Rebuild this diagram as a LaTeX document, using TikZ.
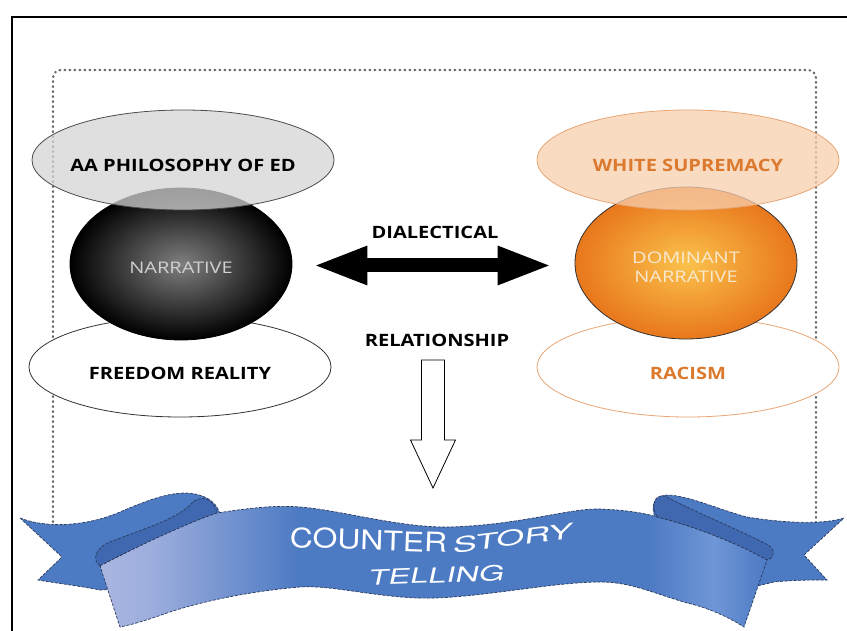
\documentclass[tikz,border=0pt]{standalone}
\usepackage{fontspec}
\setmainfont{Open Sans}
\newfontfamily\ribbonfont{TeX Gyre Heros}
\usetikzlibrary{shapes.geometric,arrows.meta}

\definecolor{peach}{HTML}{F7CFAE}
\definecolor{peachline}{HTML}{E9A574}
\definecolor{rust}{HTML}{DB7A2E}
\definecolor{cream}{HTML}{F7E9CF}
\definecolor{orbcore}{HTML}{FBC24C}
\definecolor{orbrim}{HTML}{E8771C}
\definecolor{ribblue}{HTML}{4C7AC3}
\definecolor{ribdark}{HTML}{3F68B0}
\definecolor{riblight}{HTML}{AAB6E1}
\definecolor{ribmid}{HTML}{6F96D6}
\definecolor{ribedge}{HTML}{2A3A5C}

\pgfdeclarehorizontalshading{ribbonshade}{100bp}{color(0bp)=(riblight); color(25bp)=(riblight); color(29bp)=(riblight!85!ribblue); color(40bp)=(ribblue); color(66bp)=(ribblue); color(71bp)=(ribmid); color(75bp)=(ribblue); color(100bp)=(ribblue)}
\newcommand{\wider}[2][1.18]{\scalebox{#1}[1]{#2}}

\begin{document}
\begin{tikzpicture}[x=1pt,y=-1pt,
  tag/.style={font=\bfseries\fontsize{17}{19}\selectfont, inner sep=1pt},
  soft/.style={font=\fontsize{16}{18.5}\selectfont, align=center, inner sep=1pt},
  orb/.style={ellipse, draw=black, line width=0.8pt, inner sep=0pt, minimum width=222pt, minimum height=152pt},
  lid/.style={ellipse, line width=0.8pt, inner sep=0pt, minimum width=302pt, minimum height=100pt},
  tail/.style={fill=ribblue, draw=ribedge, line width=0.7pt, dash pattern=on 3pt off 1.5pt},
  curl/.style={fill=ribdark, draw=ribedge, line width=0.7pt, dash pattern=on 3pt off 1.5pt},
  ribtext/.style={text=white, inner sep=0pt}]

\useasboundingbox (0,0) rectangle (847,631);
\draw[line width=2pt] (12,17) rectangle (900,700);
\draw[black!60, line width=2.2pt, line cap=round, dash pattern=on 0.8pt off 4.2pt, rounded corners=8pt]
  (53,527) -- (53,70) -- (816,70) -- (816,527);

% left column
\node[lid, draw=black!80, fill=white] (free) at (180,367) {};
\node[orb, shade, inner color=black!50, outer color=black] (narr) at (181,264) {};
\node[lid, draw=black!70, fill=black!17, fill opacity=0.75] (phil) at (183,160) {};
\node[tag] at ([yshift=-5pt]phil.center) {\wider{AA PHILOSOPHY OF ED}};
\node[soft, text=black!18] at ([yshift=-4pt]narr.center) {\wider[1.25]{NARRATIVE}};
\node[tag] at ([yshift=-6pt]free.center) {\wider{FREEDOM REALITY}};

% right column
\node[lid, draw=peachline, fill=white] (racism) at (688,367) {};
\node[orb, draw=black!80, shade, inner color=orbcore, outer color=orbrim] (dom) at (686,263) {};
\node[lid, draw=peachline, fill=peach, fill opacity=0.75] (supr) at (688,160) {};
\node[tag, text=rust] at ([yshift=-5pt]supr.center) {\wider{WHITE SUPREMACY}};
\node[soft, text=cream] at ([yshift=-4pt]dom.center) {\wider[1.25]{DOMINANT}\\\wider[1.25]{NARRATIVE}};
\node[tag, text=rust] at ([yshift=-6pt]racism.center) {\wider{RACISM}};

% middle
\node[tag] (dial) at (435,232) {\wider{DIALECTICAL}};
\node[tag] (rel) at (437,340) {\wider{RELATIONSHIP}};
\draw[line width=14pt, {Triangle[length=55pt 0,width=35pt 0]}-{Triangle[length=55pt 0,width=35pt 0]}]
  ([xshift=20pt,yshift=-1.5pt]narr.east) -- ([xshift=-22pt,yshift=-2.5pt]dom.west);
\draw[fill=white, line width=0.8pt] (rel.center) ++(-15.5,20) -- ++(23,0) -- ++(0,80) -- ++(11,0)
  -- ++(-22.5,48) -- ++(-22.5,-48) -- ++(11,0) -- cycle;

% ribbon
\draw[tail] (20,518) .. controls (45,528) and (85,527) .. (120,512) .. controls (150,499) and (175,490) .. (195,494)
  .. controls (210,497) and (218,505) .. (220,515) -- (230,585) -- (100,590)
  .. controls (80,586) and (55,583) .. (38,580) -- (62,557) -- cycle;
\draw[tail] (844,518) .. controls (825,524) and (790,524) .. (747,517) .. controls (720,510) and (690,496) .. (668,495)
  .. controls (655,495) and (650,505) .. (655,517) -- (740,590) -- (774,582)
  .. controls (795,580) and (812,580) .. (827,580) -- (804,555) -- cycle;
\draw[curl] (100,566) .. controls (92,560) and (95,548) .. (110,542) .. controls (140,530) and (175,520) .. (190,505)
  .. controls (198,494) and (214,497) .. (217,513) .. controls (190,522) and (140,545) .. (100,566) -- cycle;
\draw[curl] (657,517) .. controls (650,505) and (655,494) .. (665,496) .. controls (690,510) and (740,530) .. (768,545)
  .. controls (776,550) and (774,558) .. (767,560) .. controls (740,545) and (700,528) .. (657,517) -- cycle;
\draw[shading=ribbonshade, draw=ribedge, line width=0.7pt, dash pattern=on 3pt off 1.5pt]
  (100,566) .. controls (140,545) and (190,522) .. (217,513)
  .. controls (250,508) and (275,505) .. (300,507) .. controls (340,510) and (400,528) .. (450,527)
  .. controls (520,525) and (570,508) .. (600,509) .. controls (625,510) and (645,513) .. (657,517)
  .. controls (700,528) and (740,545) .. (767,560) -- (744,627)
  .. controls (725,615) and (705,607) .. (687,603) .. controls (650,592) and (630,582) .. (600,582)
  .. controls (550,582) and (470,600) .. (417,598) .. controls (370,596) and (330,585) .. (300,587)
  .. controls (240,592) and (190,605) .. (167,613) .. controls (150,619) and (135,624) .. (120,627) -- cycle;
\node[ribtext, font=\ribbonfont\fontsize{27}{27}\selectfont, rotate=-2] (counter) at (368.5,540)
  {\scalebox{1.18}[1]{COUNTER}};
\node[ribtext, font=\ribbonfont\fontsize{21}{21}\selectfont, rotate=7, xslant=0.25] (story) at (513,538)
  {\scalebox{1.72}[1]{STORY}};
\node[ribtext, font=\ribbonfont\fontsize{21}{21}\selectfont, rotate=2, xslant=0.25] (telling) at (437,575)
  {\scalebox{1.55}[1]{TELLING}};
\end{tikzpicture}
\end{document}
